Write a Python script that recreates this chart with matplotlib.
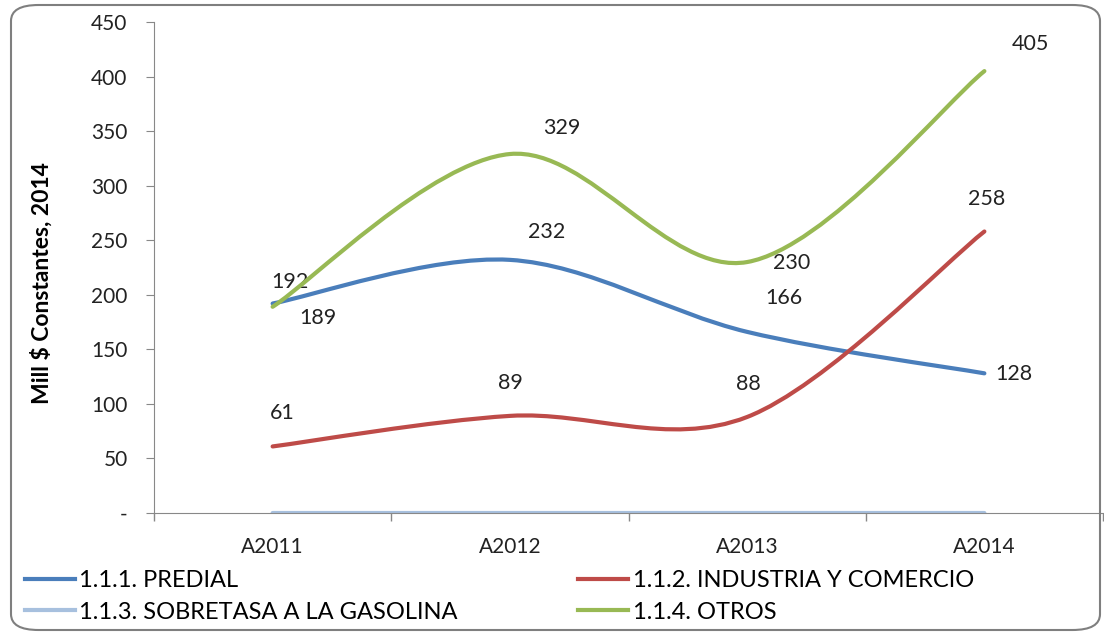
import matplotlib.pyplot as plt
from matplotlib.path import Path
from matplotlib.patches import PathPatch, FancyBboxPatch
from matplotlib.lines import Line2D

plt.rcParams['font.family'] = ['Lato', 'DejaVu Sans']

years = ['A2011', 'A2012', 'A2013', 'A2014']
predial = [192, 232, 166, 128]
industria = [61, 89, 88, 258]
sobretasa = [0, 0, 0, 0]
otros = [189, 329, 230, 405]

names = ['1.1.1. PREDIAL', '1.1.2. INDUSTRIA Y COMERCIO',
         '1.1.3. SOBRETASA A LA GASOLINA', '1.1.4. OTROS']
colors = ['#4A7EBB', '#BE4B48', '#A7C0DE', '#98B954']

# label offsets in pixels (dx, dy) for each point, as placed in the original
offsets = {
    0: [(17, 22), (37, 28), (37, 34), (29, -1)],
    1: [(10, 33), (1, 33), (1, 33), (2, 32)],
    3: [(45, -11), (52, 26), (45, -1), (46, 27)],
}


def smooth_path(xs, ys):
    # excel-like smoothed line: cubic bezier, control points from neighbours
    pts = list(zip(xs, ys))
    verts = [pts[0]]
    codes = [Path.MOVETO]
    n = len(pts)
    for i in range(n - 1):
        p0 = pts[i - 1] if i > 0 else pts[i]
        p1 = pts[i]
        p2 = pts[i + 1]
        p3 = pts[i + 2] if i + 2 < n else pts[i + 1]
        c1 = (p1[0] + (p2[0] - p0[0]) / 6, p1[1] + (p2[1] - p0[1]) / 6)
        c2 = (p2[0] - (p3[0] - p1[0]) / 6, p2[1] - (p3[1] - p1[1]) / 6)
        verts += [c1, c2, p2]
        codes += [Path.CURVE4] * 3
    return Path(verts, codes)


fig = plt.figure(figsize=(11.04, 6.35), dpi=100)
ax = fig.add_axes([154 / 1104, 1 - 513 / 635, 949 / 1104, 491 / 635])

# rounded chart border
fig.patches.append(FancyBboxPatch((11 / 1104, 5 / 635), 1089 / 1104, 625 / 635,
                                  boxstyle='round,pad=0,rounding_size=0.025',
                                  transform=fig.transFigure, fill=False,
                                  edgecolor='#7F7F7F', linewidth=1.5, zorder=0))

xs = list(range(len(years)))
series = [predial, industria, sobretasa, otros]
handles = []
for k, vals in enumerate(series):
    patch = PathPatch(smooth_path(xs, vals), fill=False, edgecolor=colors[k],
                      linewidth=3, capstyle='round', zorder=3 if k != 2 else 2)
    ax.add_patch(patch)
    handles.append(Line2D([], [], color=colors[k], linewidth=3))
    if k in offsets:
        for i, v in enumerate(vals):
            dx, dy = offsets[k][i]
            ax.annotate(str(v), (xs[i], v), xytext=(dx * 0.72, dy * 0.72),
                        textcoords='offset points', ha='center', va='center',
                        fontsize=15.5, color='#222222')

ax.set_xlim(-0.5, 3.5)
ax.set_ylim(0, 450)
ax.set_xticks(xs)
ax.set_xticklabels(years, fontsize=15)
ax.set_xticks([-0.5, 0.5, 1.5, 2.5, 3.5], minor=True)
ax.tick_params(axis='x', which='major', length=0, pad=17, colors='#222222')
ax.tick_params(axis='x', which='minor', length=6, color='#888888', width=1)
ax.set_yticks(range(0, 451, 50))
ax.set_yticklabels(['-'] + [str(v) for v in range(50, 451, 50)], fontsize=15)
ax.tick_params(axis='y', length=6, color='#888888', pad=13, colors='#222222')
ax.tick_params(axis='y', color='#888888')
for s in ['top', 'right']:
    ax.spines[s].set_visible(False)
for s in ['left', 'bottom']:
    ax.spines[s].set_color('#888888')

fig.text(42 / 1104, 1 - 283 / 635, 'Mill $ Constantes, 2014', rotation=90,
         ha='center', va='center', fontsize=16.5, fontweight='bold')

order = [0, 2, 1, 3]
fig.legend([handles[i] for i in order], [names[i] for i in order], ncol=2,
           loc='upper left', bbox_to_anchor=(25 / 1104, 1 - 570 / 635),
           frameon=False, fontsize=17, handlelength=2.1, handletextpad=0.2,
           columnspacing=5.1, labelspacing=0.45, borderpad=0, borderaxespad=0)

fig.savefig('out.png', dpi=100)
